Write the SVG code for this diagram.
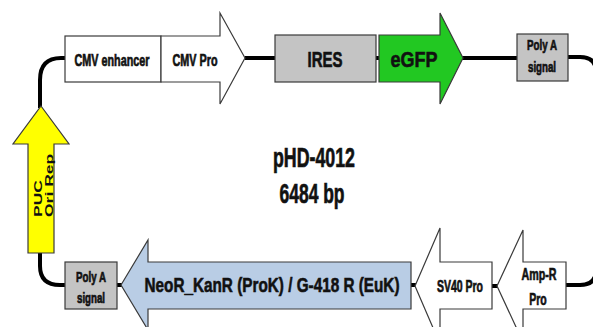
<svg xmlns="http://www.w3.org/2000/svg" width="593" height="327" viewBox="0 0 593 327">
<style>
.ln{fill:none;stroke:#000;stroke-width:4}
.sh{stroke:#3a3a3a;stroke-width:1.2}
.w{fill:#fff}
.g{fill:#c4c4c4}
.t{font-family:"Liberation Sans",Arial,sans-serif;font-weight:bold;fill:#111;stroke:#111;stroke-width:0.45;text-anchor:middle}
.r{font-family:"Liberation Sans",Arial,sans-serif;font-weight:bold;fill:#111;font-size:17.5px}
</style>
<rect width="593" height="327" fill="#fff"/>
<g id="connectors">
<path class="ln" d="M65,58 H61 Q40,58 40,80 V108"/>
<path class="ln" d="M40,252 V266 Q40,285 60,285 H66"/>
<path class="ln" d="M245,58 H276"/>
<path class="ln" d="M375,58 H380"/>
<path class="ln" d="M462,58 H518"/>
<path class="ln" d="M567,57 H580 Q596,57 596,72 V270 Q596,285 580,285 H565"/>
<path class="ln" d="M116,285 H122"/>
<path class="ln" d="M410,285 H416"/>
<path class="ln" d="M491,286 H498"/>
</g>
<g id="cmv-enhancer">
<rect class="sh w" x="65" y="36" width="96" height="46"/>
<text class="t" transform="translate(112,66) scale(1,1.55)" font-size="10.8" textLength="75" lengthAdjust="spacingAndGlyphs">CMV enhancer</text>
</g>
<g id="cmv-pro">
<polygon class="sh w" points="161,36 220,36 220,13 245,58 220,104 220,82 161,82"/>
<text class="t" transform="translate(195,66) scale(1,1.55)" font-size="10.8" textLength="45" lengthAdjust="spacingAndGlyphs">CMV Pro</text>
</g>
<g id="ires">
<rect class="sh g" x="275" y="35" width="101" height="47"/>
<text class="t" transform="translate(325,67) scale(1,1.45)" font-size="15" textLength="35" lengthAdjust="spacingAndGlyphs">IRES</text>
</g>
<g id="egfp">
<polygon class="sh" fill="#22c822" points="379,35 440,35 440,13 463,58 440,104 440,82 379,82"/>
<text class="t" transform="translate(414,67) scale(1,1.3)" font-size="17" textLength="47" lengthAdjust="spacingAndGlyphs">eGFP</text>
</g>
<g id="polya-top">
<rect class="sh g" x="517" y="34" width="51" height="47"/>
<text class="t" transform="translate(542,50) scale(1,1.52)" font-size="9.6" textLength="30" lengthAdjust="spacingAndGlyphs">Poly A</text>
<text class="t" transform="translate(542,72) scale(1,1.52)" font-size="9.7" textLength="28" lengthAdjust="spacingAndGlyphs">signal</text>
</g>
<g id="puc-ori">
<polygon class="sh" fill="#ffff00" points="41,106 69,144 54,144 54,253 28,253 28,144 13,144"/>
<text class="r" transform="translate(42,217) rotate(-90) scale(1,0.65)">PUC</text>
<text class="r" transform="translate(53,217) rotate(-90) scale(1,0.65)">Ori Rep</text>
</g>
<g id="polya-bottom">
<rect class="sh g" x="65" y="262" width="52" height="47"/>
<text class="t" transform="translate(91,282) scale(1,1.52)" font-size="9.6" textLength="30" lengthAdjust="spacingAndGlyphs">Poly A</text>
<text class="t" transform="translate(91,303) scale(1,1.52)" font-size="9.7" textLength="28" lengthAdjust="spacingAndGlyphs">signal</text>
</g>
<g id="neor">
<polygon class="sh" fill="#b9cde5" points="121,285 148,240 148,262 411,262 411,309 148,309 148,330"/>
<text class="t" transform="translate(272,292) scale(1,1.37)" font-size="15.3" textLength="255" lengthAdjust="spacingAndGlyphs">NeoR_KanR (ProK) / G-418 R (EuK)</text>
</g>
<g id="sv40-pro">
<polygon class="sh w" points="415,286 440,228 440,262 492,262 492,309 440,309 440,344"/>
<text class="t" transform="translate(460,292) scale(1,1.53)" font-size="10.5" textLength="46" lengthAdjust="spacingAndGlyphs">SV40 Pro</text>
</g>
<g id="ampr-pro">
<polygon class="sh w" points="497,286 523,230 523,262 566,262 566,309 523,309 523,342"/>
<text class="t" transform="translate(539,280) scale(1,1.5)" font-size="10.7" textLength="35" lengthAdjust="spacingAndGlyphs">Amp-R</text>
<text class="t" transform="translate(538,305) scale(1,1.5)" font-size="10.7" textLength="17.5" lengthAdjust="spacingAndGlyphs">Pro</text>
</g>
<g id="title">
<text class="t" transform="translate(314,167) scale(1,1.57)" font-size="17.8" textLength="82" lengthAdjust="spacingAndGlyphs">pHD-4012</text>
<text class="t" transform="translate(312,203) scale(1,1.57)" font-size="17.5" textLength="65" lengthAdjust="spacingAndGlyphs">6484 bp</text>
</g>
</svg>
